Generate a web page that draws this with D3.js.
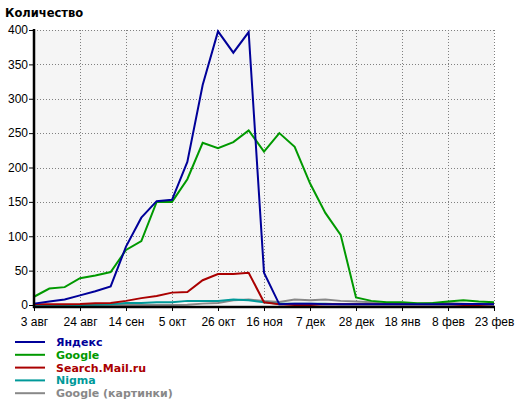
<!DOCTYPE html>
<html><head><meta charset="utf-8">
<script src="https://cdn.jsdelivr.net/npm/d3@7"></script>
<style>
body{margin:0;background:#fff;}
svg{display:block;}
</style></head>
<body>
<svg id="c" width="520" height="405"></svg>
<script>
const xLabels = ["3 авг","24 авг","14 сен","5 окт","26 окт","16 ноя","7 дек","28 дек","18 янв","8 фев","23 фев"];
const xLabelIdx = [0,3,6,9,12,15,18,21,24,27,30];
const yTicks = [0,50,100,150,200,250,300,350,400];
const seriesNames = ["Яндекс","Google","Search.Mail.ru","Nigma","Google (картинки)"];
const seriesColors = ["#000099","#009900","#aa0000","#009999","#888888"];
const yandex = [2,5,8,14,20,27,85,127,151,153,208,320,398,367,397,47,1,2,2,1,1,1,1,1,1,1,1,1,1.5,1.5,1];
const google = [12,24,26,39,43,48,80,93,150,150,183,236,228,237,254,223,250,230,177,134,102,11,6,4,4,2.5,3,5,7,5,4];
const mail   = [1,1,1,1.5,2.5,3,6,10,13,18,19,36,45,45,47,4,1,0,0,1,1,1,1,1,1,1,1,1,0,0,1];
const nigma  = [0,0,0,0,0.5,1,3,3,4,4,6,6,6,8,7,4,2,2,2,2,1,1,1,1,1,1,1,1,1,1,1];
const gimg   = [0,0,0,0,0,0,0,0,0,0,0.5,2,3,7,8,6,4.5,8,7,8,6,5,4,1.5,2,2,3,3,2,1,1];
const allSeries = [yandex, google, mail, nigma, gimg];

const svg = d3.select("#c");
const x = d3.scaleLinear().domain([0,30]).range([34,494]);
const y = d3.scaleLinear().domain([0,400]).range([305,30]);
const font = "'Liberation Sans', Arial, sans-serif";

// title
svg.append("text").attr("x",5).attr("y",17)
  .attr("font-family","'DejaVu Sans', Verdana, sans-serif").attr("font-weight","bold")
  .attr("font-size",11.5).attr("fill","#000").text("Количество");

// plot background
svg.append("rect").attr("x",x(0)).attr("y",y(400)).attr("width",x(30)-x(0)).attr("height",y(0)-y(400))
  .attr("fill","#f5f5f5");

// grid
const g = svg.append("g").attr("stroke","#808080").attr("stroke-width",1).attr("stroke-dasharray","1,2");
g.selectAll("line.h").data(yTicks.filter(d=>d>0)).join("line")
  .attr("x1",x(0)).attr("x2",x(30)).attr("y1",d=>Math.round(y(d))+0.5).attr("y2",d=>Math.round(y(d))+0.5);
g.selectAll("line.v").data(xLabelIdx.filter(d=>d>0)).join("line")
  .attr("x1",d=>Math.round(x(d))+0.5).attr("x2",d=>Math.round(x(d))+0.5).attr("y1",y(400)).attr("y2",y(0));

// lines (drawn in reverse so Яндекс is on top)
const line = d3.line().x((d,i)=>x(i)).y(d=>y(d));
for (let k = allSeries.length-1; k >= 0; k--) {
  svg.append("path").datum(allSeries[k]).attr("d",line)
    .attr("fill","none").attr("stroke",seriesColors[k]).attr("stroke-width",2)
    .attr("stroke-linejoin","miter");
}

// axes
const yAxis = d3.axisLeft(y).tickValues(yTicks).tickSize(4).tickPadding(1).tickSizeOuter(0);
const ya = svg.append("g").attr("transform","translate(33,0)").call(yAxis);
ya.select(".domain").remove();
ya.selectAll("line").attr("stroke","#000");
ya.selectAll("text").attr("font-family",font).attr("font-size",12).attr("fill","#000");

const xAxis = d3.axisBottom(x).tickValues(xLabelIdx).tickFormat((d,i)=>xLabels[i]).tickSize(4).tickPadding(6).tickSizeOuter(0);
const xa = svg.append("g").attr("transform","translate(0,307)").call(xAxis);
xa.select(".domain").remove();
xa.selectAll("line").attr("stroke","#000");
xa.selectAll("text").attr("font-family",font).attr("font-size",12).attr("fill","#000");

svg.append("line").attr("x1",34).attr("x2",34).attr("y1",29).attr("y2",308).attr("stroke","#000").attr("stroke-width",2.5);
svg.append("line").attr("x1",33).attr("x2",495).attr("y1",307).attr("y2",307).attr("stroke","#000").attr("stroke-width",2.5);

// legend
const lg = svg.append("g");
seriesNames.forEach((name,i)=>{
  const cy = 342 + i*12.8;
  lg.append("line").attr("x1",15).attr("x2",45).attr("y1",cy).attr("y2",cy)
    .attr("stroke",seriesColors[i]).attr("stroke-width",2);
  lg.append("text").attr("x",56).attr("y",cy+4).attr("fill",seriesColors[i])
    .attr("font-family","'DejaVu Sans', Verdana, sans-serif").attr("font-weight","bold")
    .attr("font-size",11).text(name);
});
</script>
</body></html>
